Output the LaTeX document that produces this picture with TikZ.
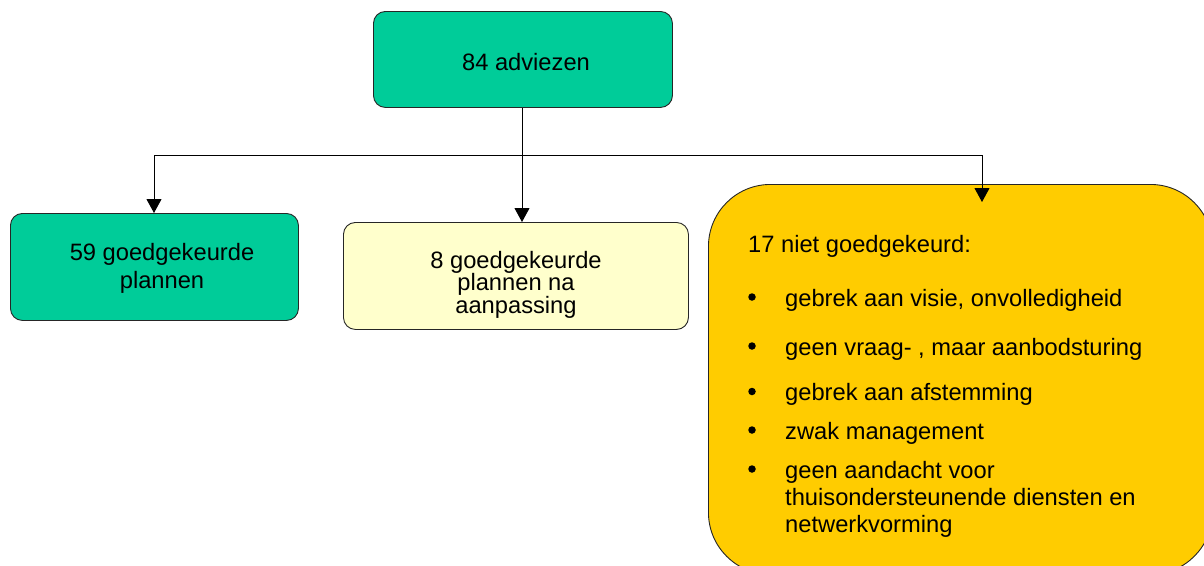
\documentclass[tikz,border=0pt]{standalone}
\usepackage{fontspec}
\setmainfont{Liberation Sans}
\usetikzlibrary{arrows.meta}
\definecolor{boxgreen}{HTML}{00CC99}
\definecolor{boxcream}{HTML}{FFFFCC}
\definecolor{boxgold}{HTML}{FFCC00}
\tikzset{
  boxstyle/.style={draw=black!85, line width=0.9pt, rectangle, anchor=north west, inner sep=0pt},
  txt/.style={inner sep=0pt, anchor=base, font=\fontsize{23.7}{28}\selectfont},
  txtw/.style={inner sep=0pt, anchor=base west, font=\fontsize{23.7}{28}\selectfont},
  bul/.style={circle, fill=black, inner sep=0pt, minimum size=7.5pt},
  link/.style={draw=black, line width=0.9pt},
  arr/.style={link, -{Triangle[width=15pt,length=14pt]}}
}
\begin{document}
\begin{tikzpicture}[x=1pt,y=-1pt]
\useasboundingbox (0,0) rectangle (1204,565);
\begin{scope}
\clip (0,0) rectangle (1204,565);
% boxes
\node[boxstyle, fill=boxgreen, rounded corners=12pt, minimum width=299pt, minimum height=96pt] (top) at (373,11) {};
\node[boxstyle, fill=boxgreen, rounded corners=12pt, minimum width=288pt, minimum height=107pt] (left) at (10,213) {};
\node[boxstyle, fill=boxcream, rounded corners=12pt, minimum width=345pt, minimum height=107pt] (mid) at (343,222) {};
\node[boxstyle, fill=boxgold, rounded corners=62pt, minimum width=504pt, minimum height=390pt] (right) at (708,184) {};
% texts
\node[txt] (ttop) at (526,70) {84 adviezen};
\node[txt] (tl1) at (162,260.5) {59 goedgekeurde};
\node[txt] (tl2) at (162,288) {plannen};
\node[txt] (tm1) at (516,268) {8 goedgekeurde};
\node[txt] (tm2) at (516,290.5) {plannen na};
\node[txt] (tm3) at (516,313) {aanpassing};
\node[txtw] (tr0) at (748,252) {17 niet goedgekeurd:};
\node[bul] (b1) at (752,297) {};
\node[txtw] (r1) at (785,306) {gebrek aan visie, onvolledigheid};
\node[bul] (b2) at (752,346) {};
\node[txtw] (r2) at (785,355) {geen vraag- , maar aanbodsturing};
\node[bul] (b3) at (752,391.5) {};
\node[txtw] (r3) at (785,400.5) {gebrek aan afstemming};
\node[bul] (b4) at (752,430) {};
\node[txtw] (r4) at (785,439) {zwak management};
\node[bul] (b5) at (752,469) {};
\node[txtw] (r5) at (785,478) {geen aandacht voor};
\node[txtw] (r6) at (785,505.5) {thuisondersteunende diensten en};
\node[txtw] (r7) at (785,532.5) {netwerkvorming};
% connectors
\coordinate (hub) at (522,155);
\coordinate (lefthub) at (154,155);
\coordinate (righthub) at (982,155);
\coordinate (rightend) at (982,202);
\coordinate (midend) at (522,222);
\coordinate (leftend) at (154,213);
\draw[link] (top.south -| hub) -- (hub);
\draw[link] (lefthub) -- (righthub);
\draw[arr] (lefthub) -- (leftend);
\draw[arr] (hub) -- (midend);
\draw[arr] (righthub) -- (rightend);
\end{scope}
\end{tikzpicture}
\end{document}
